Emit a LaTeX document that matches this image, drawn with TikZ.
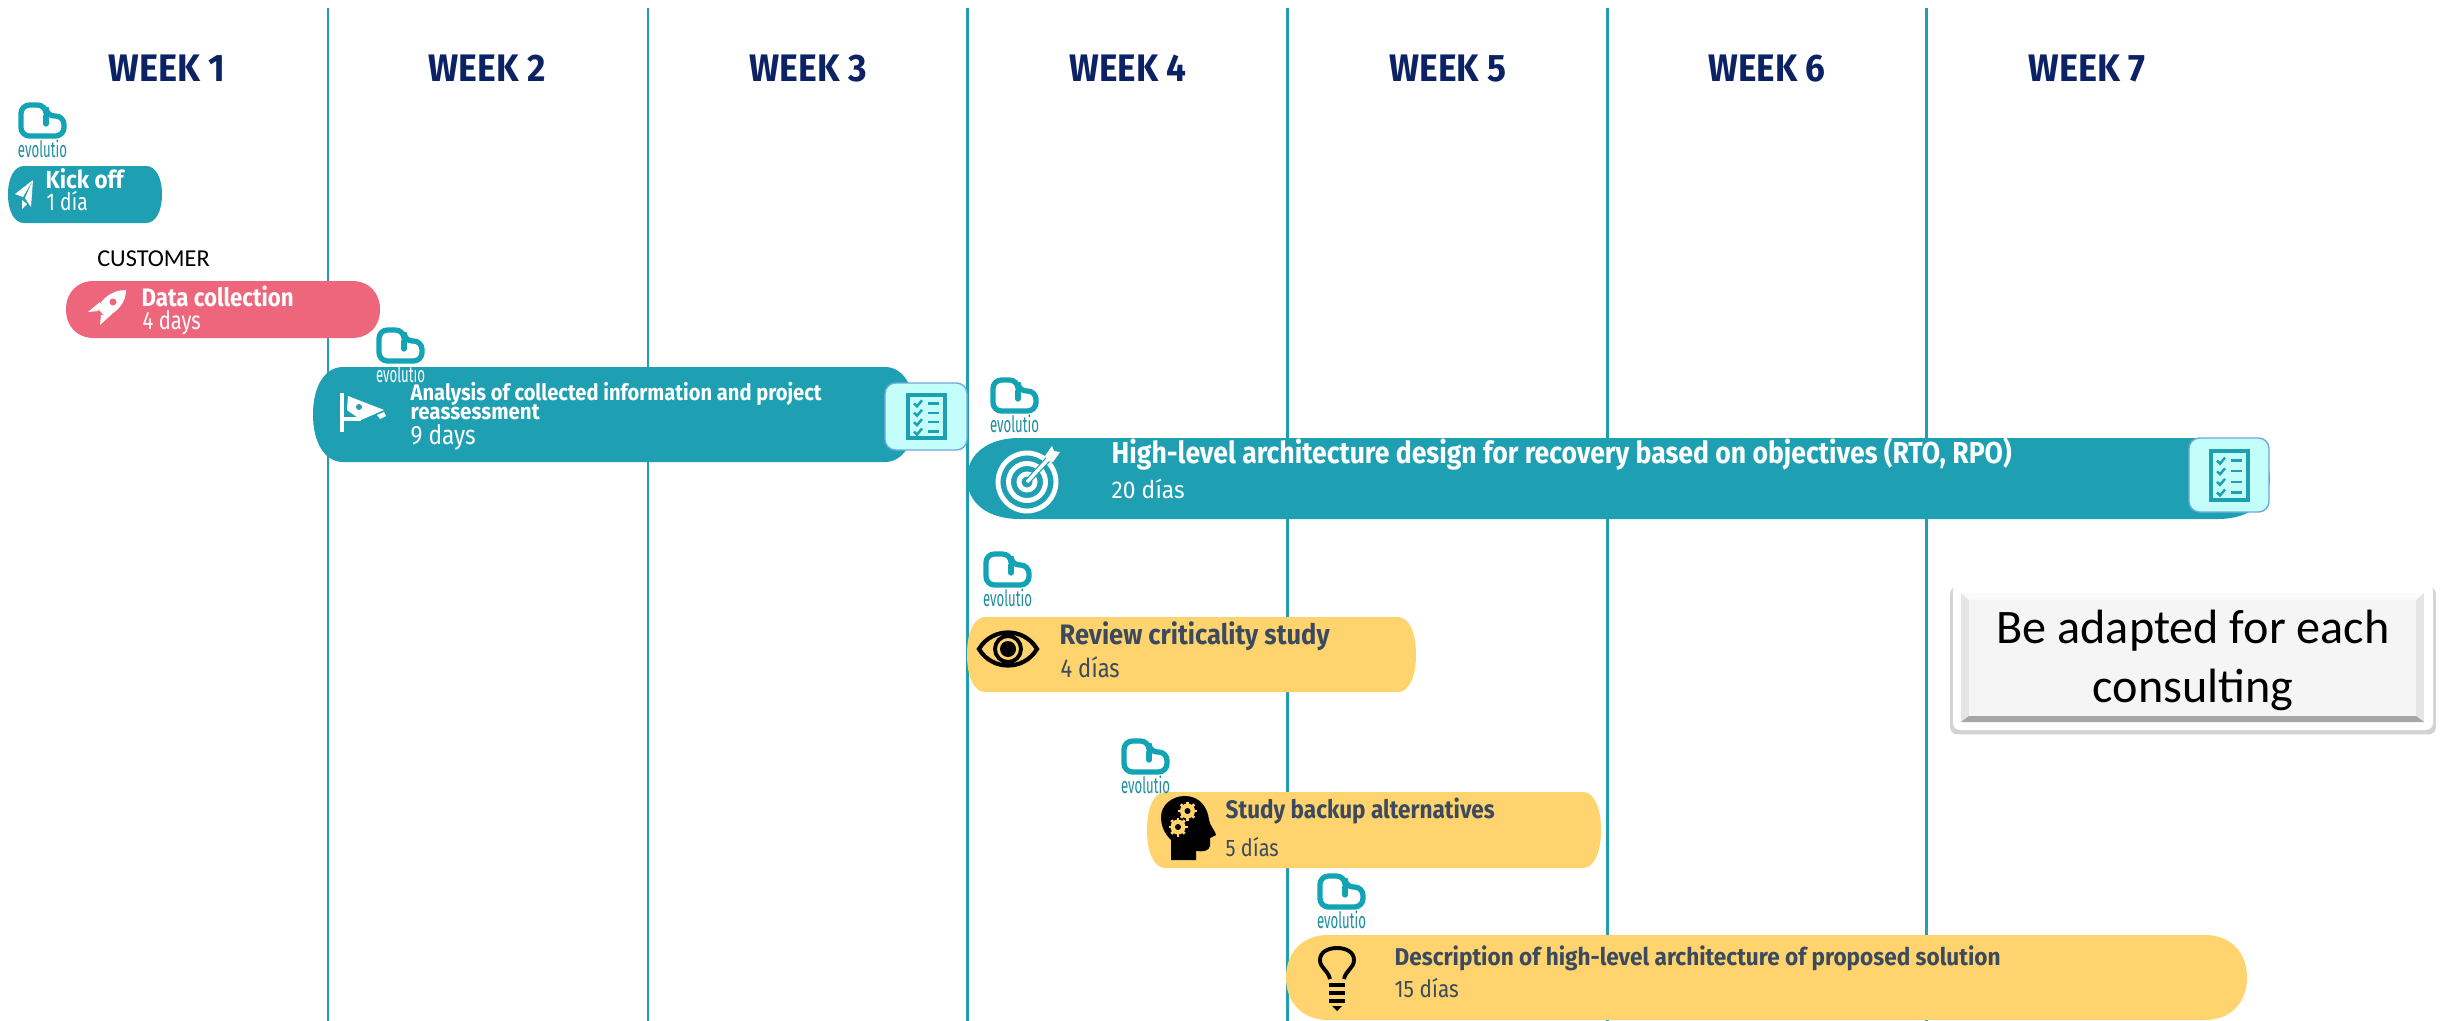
\documentclass[tikz,border=0pt]{standalone}
\usepackage{fontspec}
\setmainfont{Fira Sans}
\newfontfamily\calib{Carlito}
\usetikzlibrary{shadows}
\definecolor{tealbar}{HTML}{1FA0B2}
\definecolor{tealline}{HTML}{1F9FB0}
\definecolor{logoteal}{HTML}{12A3B5}
\definecolor{pinkbar}{HTML}{EE667B}
\definecolor{yellowbar}{HTML}{FFD36E}
\definecolor{navy}{HTML}{0B2264}
\definecolor{slate}{HTML}{3B4A5E}
\definecolor{paleaqua}{HTML}{C4FEFB}
\definecolor{paleblue}{HTML}{6FA8DC}
\newlength\pxlen
\setlength\pxlen{0.01cm}
\tikzset{
  weeklabel/.style={anchor=base,inner sep=0,text=navy,font=\bfseries\fontsize{10.9}{12}\selectfont},
  bartext/.style={anchor=base west,inner sep=0},
  logoline/.style={line width=1.5pt,draw=logoteal,line cap=round},
}
\begin{document}
\begin{tikzpicture}[x=0.01cm,y=-0.01cm]
  \useasboundingbox (0,0) rectangle (2450,1021);

  %week lines
  \foreach \x in {328,648,967,1287,1607,1926}{
    \draw[tealline,line width=0.85pt] (\x,8) -- (\x,1021);
  }

  %week titles
  \foreach \i/\x in {1/167,2/487,3/808,4/1128,5/1448,6/1767,7/2087}{
    \node[weeklabel] (week\i) at (\x,81) {\resizebox{117\pxlen}{\height}{WEEK \i}};
  }

  %bars
  \foreach \xa/\xb/\ya/\yb/\r/\col in {8/162/166/223/16/tealbar,
      66/380/281/338/28/pinkbar,
      313/915/367/462/30/tealbar,
      967/2270/438/519/52/tealbar,
      967/1416/617/692/18/yellowbar,
      1147/1601/792/868/18/yellowbar,
      1286/2247/935/1020/42/yellowbar}{
    \fill[\col] (\xa+\r,\ya) -- (\xb-\r,\ya)
      .. controls (\xb-0.4*\r,\ya) and (\xb,{\ya+0.2*(\yb-\ya)}) .. (\xb,{0.5*(\ya+\yb)})
      .. controls (\xb,{\yb-0.2*(\yb-\ya)}) and (\xb-0.4*\r,\yb) .. (\xb-\r,\yb)
      -- (\xa+\r,\yb)
      .. controls (\xa+0.4*\r,\yb) and (\xa,{\yb-0.2*(\yb-\ya)}) .. (\xa,{0.5*(\ya+\yb)})
      .. controls (\xa,{\ya+0.2*(\yb-\ya)}) and (\xa+0.4*\r,\ya) .. cycle;
  }

  %logos
  \foreach \i/\x/\y/\col in {1/18/102/logoteal!75!slate,2/376/327/white,3/990/377/logoteal!75!slate,
      4/983/551/logoteal!75!slate,5/1121/738/logoteal!75!slate,6/1317/873/logoteal!75!slate}{
    \draw[logoline,rounded corners=2.4pt] (\x+3,\y+3) -- (\x+28,\y+3) -- (\x+28,\y+14) -- (\x+46,\y+14) -- (\x+46,\y+34) -- (\x+3,\y+34) -- cycle;
    \draw[logoline] (\x+28,\y+14) -- (\x+28,\y+22);
    \node[bartext,anchor=base,text=\col] (logotext\i) at (\x+24.5,\y+55) {\resizebox{49\pxlen}{\height}{\fontsize{6.4}{7}\selectfont evolutio}};
  }

  %titles
  \foreach \x/\y/\w/\sz/\col/\name/\txt in {45/189/78/7/white/kick/Kick off,
      141/306/152/7.2/white/data/Data collection,
      410/400/411/6.4/white/anaone/Analysis of collected information and project,
      410/419/129/6.4/white/anatwo/reassessment,
      1111/463/900/8.6/white/high/{High-level architecture design for recovery based on objectives (RTO, RPO)},
      1059/644/270/8/slate/review/Review criticality study,
      1225/818/269/7.2/slate/study/Study backup alternatives,
      1394/965/606/6.9/slate/desc/Description of high-level architecture of proposed solution}{
    \node[bartext,text=\col] (\name) at (\x,\y) {\resizebox{\w\pxlen}{\height}{\bfseries\fontsize{\sz}{\sz}\selectfont \txt}};
  }

  %durations
  \foreach \x/\y/\w/\sz/\col/\name/\txt in {46/210/41/6.9/white/kickdays/1 día,
      142/330/58/7.2/white/datadays/4 days,
      410/444/65/7.6/white/anadays/9 days,
      1111/498/73/6.9/white/highdays/20 días,
      1060/677/59/7.4/slate/reviewdays/4 días,
      1225/856/53/6.8/slate/studydays/5 días,
      1394/997/64/6.8/slate/descdays/15 días}{
    \node[bartext,text=\col] (\name) at (\x,\y) {\resizebox{\w\pxlen}{\height}{\fontsize{\sz}{\sz}\selectfont \txt}};
  }

  \node[anchor=base,inner sep=0,font=\calib\fontsize{6.9}{8}\selectfont] (customer) at (153.5,266) {CUSTOMER};

  %checklist icons
  \foreach \xa/\xb/\ya/\yb/\dx/\dy/\dh in {885/967/383/450/906/393/47,2189/2269/438/512/2209/449/53}{
    \draw[paleblue,fill=paleaqua,line width=0.4pt,rounded corners=3pt] (\xa,\ya) rectangle (\xb,\yb);
    \draw[tealbar,line width=1.1pt] (\dx+2,\dy+2) rectangle (\dx+39,\dy+\dh-2);
    \foreach \n in {0,1,2,3}{
      \draw[tealbar,line width=0.7pt] (\dx+8,{\dy+\dh*(0.22+\n*0.2)}) -- (\dx+11,{\dy+\dh*(0.22+\n*0.2)+3}) -- (\dx+16,{\dy+\dh*(0.22+\n*0.2)-3});
      \draw[tealbar,line width=0.7pt] (\dx+22,{\dy+\dh*(0.22+\n*0.2)}) -- (\dx+33,{\dy+\dh*(0.22+\n*0.2)});
    }
  }

  %plane
  \fill[white] (33,180) -- (15,194) -- (23,197) -- cycle;
  \fill[white] (33,180) -- (25,198) -- (31,207) -- cycle;
  \fill[white] (22,200) -- (22,209) -- (27,204) -- cycle;

  %rocket
  \fill[white] (126,290) .. controls (112,290) and (103,298) .. (97,308) -- (106,317) .. controls (118,312) and (126,302) .. (126,290) -- cycle;
  \fill[white] (100,302) -- (88,312) -- (98,311) -- cycle;
  \fill[white] (112,314) -- (100,325) -- (101,315) -- cycle;
  \fill[pinkbar] (113,302) circle[radius=3.5];

  %camera
  \fill[white] (340,393) rectangle (344,432);
  \draw[white,line width=0.9pt] (342,419) -- (359,419) -- (359,412);
  \fill[white] (348,396) -- (384,410) -- (361,420) -- (347,410) -- cycle;
  \fill[white] (377,415) -- (384,412) -- (386,416) -- (380,419) -- cycle;
  \fill[tealbar] (359,407) circle[radius=3];

  %target
  \foreach \rad in {29,18.5,8}{
    \draw[white,line width=1.4pt] (1027,482) circle[radius=\rad];
  }
  \draw[tealbar,line width=1.7pt] (1027,482) -- (1054,453);
  \draw[white,line width=1pt] (1027,482) -- (1052,455);
  \fill[white] (1045,456) -- (1052,446) -- (1054,451) -- (1060,452) -- (1053,462) -- (1048,461) -- cycle;

  %eye
  \draw[line width=1.2pt] (979,649) .. controls (992,627) and (1024,627) .. (1037,649) .. controls (1024,671) and (992,671) .. cycle;
  \draw[line width=1.1pt] (1008,649) circle[radius=13];
  \fill (1008,649) circle[radius=8];

  %head
  \fill (1171,860) -- (1171,840) .. controls (1163,832) and (1161,824) .. (1161,817)
    .. controls (1161,805) and (1172,796) .. (1185,796)
    .. controls (1200,796) and (1208,808) .. (1209,820)
    .. controls (1210,826) and (1216,832) .. (1216,835)
    -- (1210,838) -- (1210,846) .. controls (1209,851) and (1203,852) .. (1196,851)
    -- (1196,860) -- cycle;
  \foreach \gx/\gy in {1187.5/811,1178/827}{
    \fill[yellowbar] (\gx,\gy) circle[radius=7.5];
    \foreach \a in {0,45,...,315}{
      \draw[yellowbar,line width=0.8pt] (\gx,\gy) -- ++(\a:9.5);
    }
    \fill (\gx,\gy) circle[radius=3];
  }

  %bulb
  \draw[line width=1.1pt] (1330,979) .. controls (1328,970) and (1320,968) .. (1320,960)
    .. controls (1320,952) and (1328,948) .. (1337,948)
    .. controls (1346,948) and (1354,952) .. (1354,960)
    .. controls (1354,968) and (1346,970) .. (1344,979);
  \foreach \y in {985,993,1001}{
    \draw[line width=1.2pt] (1329,\y) -- (1345,\y);
  }
  \fill (1332,1006) -- (1342,1006) -- (1337,1011) -- cycle;

  %note
  \fill[white,rounded corners=2pt,drop shadow={shadow xshift=0pt,shadow yshift=-1pt,shadow scale=1.012,opacity=0.35}] (1953,584) rectangle (2433,730);
  \fill[gray!20] (1961,593) rectangle (2424,722);
  \fill[white!97!gray] (1961,593) -- (2424,593) -- (2416,600) -- (1969,600) -- cycle;
  \fill[gray!70] (1961,722) -- (2424,722) -- (2416,716) -- (1969,716) -- cycle;
  \fill[gray!8] (1969,600) rectangle (2416,716);
  \node[anchor=base,inner sep=0,font=\calib\fontsize{13.7}{15}\selectfont] (noteone) at (2193,643) {Be adapted for each};
  \node[anchor=base,inner sep=0,font=\calib\fontsize{13.7}{15}\selectfont] (notetwo) at (2193,702) {consulting};

\end{tikzpicture}
\end{document}
